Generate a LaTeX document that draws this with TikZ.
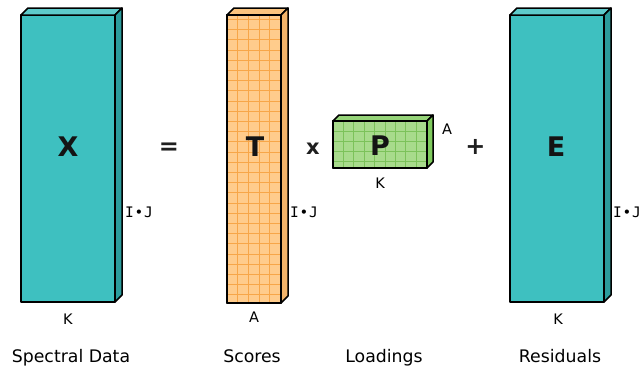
\documentclass[tikz,border=0pt]{standalone}
\usepackage{fontspec}
\setmainfont{DejaVu Sans}
\newfontfamily\monof{DejaVu Sans Mono}
\definecolor{tealF}{HTML}{3EC0C0}
\definecolor{tealS}{HTML}{2C9C9C}
\definecolor{tealT}{HTML}{5ECBCB}
\definecolor{orF}{HTML}{FFCC8C}
\definecolor{orS}{HTML}{F3B46A}
\definecolor{orT}{HTML}{FBC47E}
\definecolor{orG}{HTML}{F7A648}
\definecolor{grF}{HTML}{A8DB8C}
\definecolor{grS}{HTML}{7FCB5E}
\definecolor{grT}{HTML}{95D378}
\definecolor{grG}{HTML}{7CC25A}
\tikzset{
  face/.style={draw=black, line width=1.5pt, line join=round, outer sep=0pt, inner sep=0pt},
  big/.style={font=\fontsize{27}{27}\selectfont\bfseries, text=black!92, inner sep=0pt},
  op/.style={font=\fontsize{24}{24}\selectfont\bfseries, text=black!88, inner sep=0pt},
  dimlbl/.style={font=\fontsize{14.5}{14.5}\selectfont, inner sep=0pt, anchor=base},
  dimmono/.style={font=\monof\fontsize{14.5}{14.5}\selectfont, inner sep=0pt},
  caption/.style={font=\fontsize{17.3}{18}\selectfont, inner sep=0pt, anchor=base},
  gridline/.style={line width=0.7pt},
}
\begin{document}
\begin{tikzpicture}[x=1pt,y=-1pt]
\useasboundingbox (0,0) rectangle (644,370);
% X
\node[face, fill=tealF, minimum width=94, minimum height=287, anchor=north west] (X) at (21,15) {};
\draw[face, fill=tealT] (X.north west) -- ++(7,-7) -- ++(94,0) -- (X.north east) -- cycle;
\draw[face, fill=tealS] (X.north east) -- ++(7,-7) -- ++(0,287) -- (X.south east) -- cycle;
\node[big] (xl) at (68,147) {X};
% T
\node[face, fill=orF, minimum width=54, minimum height=288, anchor=north west] (T) at (227,15) {};
\foreach \i in {1,...,4} \draw[orG, gridline] ([xshift=\i*10.7pt]T.north west) -- ([xshift=\i*10.7pt]T.south west);
\foreach \j in {0,...,27} \draw[orG, gridline] ([yshift=-4.3pt-\j*10.2pt]T.north west) -- ([yshift=-4.3pt-\j*10.2pt]T.north east);
\draw[face, fill=orT] (T.north west) -- ++(7,-7) -- ++(54,0) -- (T.north east) -- cycle;
\draw[face, fill=orS] (T.north east) -- ++(7,-7) -- ++(0,288) -- (T.south east) -- cycle;
\draw[face, fill=none] (T.north west) rectangle (T.south east);
\node[big] (tl) at (255,147) {T};
% P
\node[face, fill=grF, minimum width=94, minimum height=47, anchor=north west] (P) at (333,121) {};
\foreach \i in {1,...,8} \draw[grG, gridline] ([xshift=\i*10.4pt]P.north west) -- ([xshift=\i*10.4pt]P.south west);
\foreach \j in {1,...,4} \draw[grG, gridline] ([yshift=-\j*10pt]P.north west) -- ([yshift=-\j*10pt]P.north east);
\draw[face, fill=grT] (P.north west) -- ++(6,-6) -- ++(94,0) -- (P.north east) -- cycle;
\draw[face, fill=grS] (P.north east) -- ++(6,-6) -- ++(0,47) -- (P.south east) -- cycle;
\draw[face, fill=none] (P.north west) rectangle (P.south east);
\node[big] (pl) at (380,146) {P};
% E
\node[face, fill=tealF, minimum width=94, minimum height=287, anchor=north west] (E) at (510,15) {};
\draw[face, fill=tealT] (E.north west) -- ++(7,-7) -- ++(94,0) -- (E.north east) -- cycle;
\draw[face, fill=tealS] (E.north east) -- ++(7,-7) -- ++(0,287) -- (E.south east) -- cycle;
\node[big] (el) at (556,147) {E};
% operators
\node[op] (eq) at (169,148.5) {=};
\node[font=\fontsize{21}{21}\selectfont\bfseries, text=black!88, inner sep=0pt] (times) at (313,148.5) {x};
\node[op] (plus) at (475.5,147) {+};
% dimension labels
\node[dimmono] (ij1) at (139,212) {I\hspace{0.8pt}•\hspace{0.8pt}J};
\node[dimmono] (ij2) at (304,212) {I\hspace{0.8pt}•\hspace{0.8pt}J};
\node[dimmono] (ij3) at (627,212) {I\hspace{0.8pt}•\hspace{0.8pt}J};
\node[dimlbl] (k1) at (68,324.5) {K};
\node[dimlbl] (a1) at (254,322.5) {A};
\node[dimlbl] (k2) at (380,188.5) {K};
\node[dimlbl] (a2) at (447,134.5) {A};
\node[dimlbl] (k3) at (558,324.5) {K};
% captions
\node[caption] (c1) at (71,362) {Spectral Data};
\node[caption] (c2) at (252,362) {Scores};
\node[caption] (c3) at (384,362) {Loadings};
\node[caption] (c4) at (560,362) {Residuals};
\end{tikzpicture}
\end{document}
